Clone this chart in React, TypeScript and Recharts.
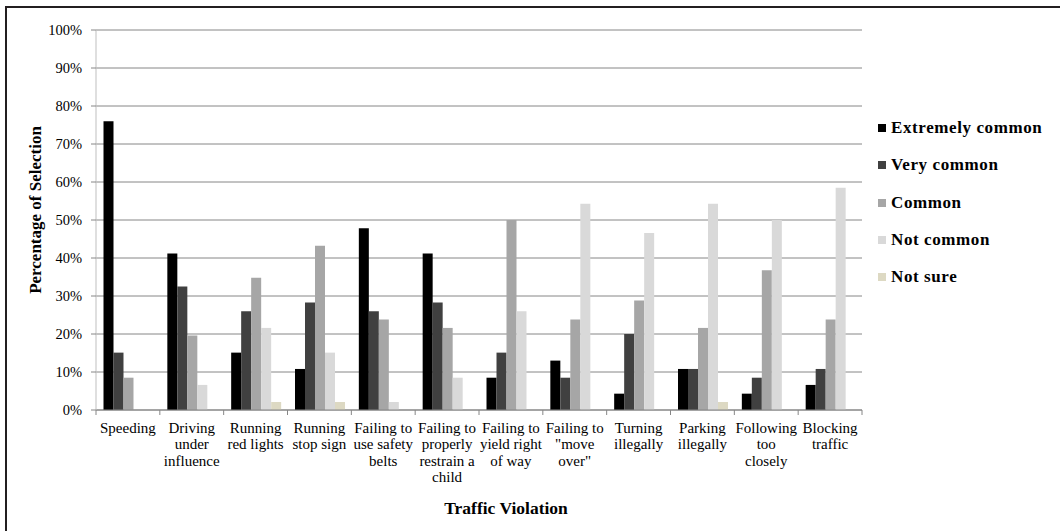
import React from "react";
import { BarChart, Bar, XAxis, YAxis, CartesianGrid, Legend } from "recharts";

const categories = [
  "Speeding",
  "Driving under influence",
  "Running red lights",
  "Running stop sign",
  "Failing to use safety belts",
  "Failing to properly restrain a child",
  "Failing to yield right of way",
  'Failing to "move over"',
  "Turning illegally",
  "Parking illegally",
  "Following too closely",
  "Blocking traffic",
];

const tickLines: string[][] = [
  ["Speeding"],
  ["Driving", "under", "influence"],
  ["Running", "red lights"],
  ["Running", "stop sign"],
  ["Failing to", "use safety", "belts"],
  ["Failing to", "properly", "restrain a", "child"],
  ["Failing to", "yield right", "of way"],
  ["Failing to", '"move', 'over"'],
  ["Turning", "illegally"],
  ["Parking", "illegally"],
  ["Following", "too", "closely"],
  ["Blocking", "traffic"],
];

const extremelyCommon = [76.0, 41.2, 15.1, 10.8, 47.8, 41.2, 8.5, 13.0, 4.3, 10.8, 4.3, 6.6];
const veryCommon = [15.1, 32.5, 26.0, 28.3, 26.0, 28.3, 15.1, 8.5, 20.0, 10.8, 8.5, 10.8];
const common = [8.5, 19.6, 34.8, 43.2, 23.8, 21.6, 50.0, 23.8, 28.8, 21.6, 36.8, 23.8];
const notCommon = [0, 6.6, 21.6, 15.1, 2.1, 8.5, 26.0, 54.3, 46.6, 54.3, 50.0, 58.5];
const notSure = [0, 0, 2.1, 2.1, 0, 0, 0, 0, 0, 2.1, 0, 0];

const yTicks = [0, 10, 20, 30, 40, 50, 60, 70, 80, 90, 100];

const seriesNames = ["Extremely common", "Very common", "Common", "Not common", "Not sure"];
const seriesKeys = ["extremely", "very", "common", "notCommon", "notSure"];
const seriesColors = ["#000000", "#404040", "#a6a6a6", "#d9d9d9", "#ddd9c3"];

const data = categories.map((c, i) => ({
  name: c,
  extremely: extremelyCommon[i],
  very: veryCommon[i],
  common: common[i],
  notCommon: notCommon[i],
  notSure: notSure[i],
}));

const FONT = "'Liberation Serif', 'Times New Roman', serif";

const XTick = (props: any) => {
  const { x, y, index, width, visibleTicksCount } = props;
  const bw = width / (visibleTicksCount || categories.length);
  const lines = tickLines[index] || [];
  const isLast = index === categories.length - 1;
  return (
    <g>
      <line x1={x - bw / 2} x2={x - bw / 2} y1={y} y2={y + 5} stroke="#868686" />
      {isLast && <line x1={x + bw / 2} x2={x + bw / 2} y1={y} y2={y + 5} stroke="#868686" />}
      <text x={x} y={y + 23} textAnchor="middle" fontFamily={FONT} fontSize={15} fill="#000">
        {lines.map((l, i) => (
          <tspan key={i} x={x} dy={i === 0 ? 0 : 16.4}>
            {l}
          </tspan>
        ))}
      </text>
    </g>
  );
};

const LegendContent = () => (
  <div style={{ fontFamily: FONT }}>
    {seriesNames.map((n, i) => (
      <div
        key={n}
        style={{ height: 37.3, display: "flex", alignItems: "center", fontWeight: "bold", fontSize: 17, color: "#000", whiteSpace: "nowrap" }}
      >
        <span style={{ display: "inline-block", width: 8, height: 8, background: seriesColors[i], marginRight: 5 }} />
        <span style={{ letterSpacing: 0.6 }}>{n}</span>
      </div>
    ))}
  </div>
);

export default function App() {
  return (
    <div style={{ position: "absolute", left: 0, top: 0, width: 1060, height: 531, background: "#fff" }}>
      <div
        style={{
          position: "absolute",
          left: 5,
          top: 6,
          right: 0,
          bottom: 0,
          borderTop: "2px solid #231f20",
          borderLeft: "2px solid #231f20",
          pointerEvents: "none",
        }}
      />
      <BarChart
        width={1060}
        height={531}
        data={data}
        margin={{ top: 30, right: 198, bottom: 0, left: 0 }}
        barCategoryGap={7.5}
        barGap={0}
      >
        <CartesianGrid vertical={false} stroke="#868686" strokeWidth={1} />
        <XAxis
          dataKey="name"
          height={121}
          interval={0}
          tickLine={false}
          tickSize={0}
          tickMargin={0}
          axisLine={{ stroke: "#868686" }}
          tick={<XTick />}
          label={{
            content: (p: any) => {
              const vb = p.viewBox;
              return (
                <text
                  x={vb.x + vb.width / 2 + 27}
                  y={514}
                  textAnchor="middle"
                  fontFamily={FONT}
                  fontWeight="bold"
                  fontSize={17.5}
                  fill="#000"
                >
                  Traffic Violation
                </text>
              );
            },
          }}
        />
        <YAxis
          width={96}
          domain={[0, 100]}
          ticks={yTicks}
          interval={0}
          tickFormatter={(v: number) => `${v}%`}
          tickSize={5}
          tickMargin={9}
          tickLine={{ stroke: "#868686" }}
          axisLine={{ stroke: "#bfbfbf" }}
          tick={{ fontFamily: FONT, fontSize: 14.5, fill: "#000" }}
          label={{
            content: (p: any) => {
              const vb = p.viewBox;
              const cx = 41;
              const cy = vb.y + vb.height / 2 - 10;
              return (
                <text
                  x={cx}
                  y={cy}
                  transform={`rotate(-90, ${cx}, ${cy})`}
                  textAnchor="middle"
                  fontFamily={FONT}
                  fontWeight="bold"
                  fontSize={17}
                  fill="#000"
                >
                  Percentage of Selection
                </text>
              );
            },
          }}
        />
        <Legend
          layout="vertical"
          verticalAlign="middle"
          align="center"
          content={<LegendContent />}
          wrapperStyle={{ left: 878, top: 109.5, width: 180, right: "auto", bottom: "auto" }}
        />
        {seriesKeys.map((k, i) => (
          <Bar key={k} dataKey={k} name={seriesNames[i]} fill={seriesColors[i]} isAnimationActive={false} />
        ))}
      </BarChart>
    </div>
  );
}
